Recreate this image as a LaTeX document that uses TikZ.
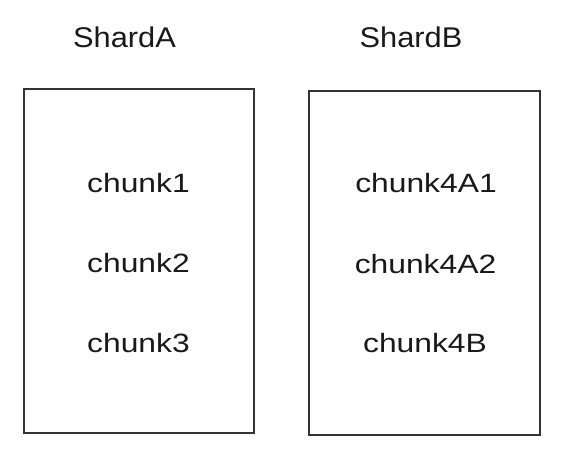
\documentclass[tikz,border=0pt]{standalone}
\usepackage{fontspec}
\setmainfont{Liberation Sans}
\newfontfamily\chunkfont[FakeStretch=1.2]{Liberation Sans}
\newfontfamily\shardfont[FakeStretch=1.08]{Liberation Sans}
\begin{document}
\begin{tikzpicture}[x=1pt,y=-1pt,
  shardbox/.style={draw=black!80,line width=2pt,fill=white,inner sep=0pt},
  chunklabel/.style={anchor=base,inner sep=0pt,font=\chunkfont\fontsize{26.5}{30}\selectfont,text=black!90},
  shardlabel/.style={anchor=base,inner sep=0pt,font=\shardfont\fontsize{28.5}{32}\selectfont,text=black!90}]
\useasboundingbox (0,0) rectangle (565,459);
\node[shardbox,minimum width=230pt,minimum height=344pt] (boxA) at (139,261) {};
\node[shardbox,minimum width=231pt,minimum height=344pt] (boxB) at (424.5,263) {};
\node[shardlabel] (shardA) at (124.5,47) {ShardA};
\node[shardlabel] (shardB) at (411,47) {ShardB};
\node[chunklabel] (c1) at (138.5,192) {chunk1};
\node[chunklabel] (c2) at (138.5,272) {chunk2};
\node[chunklabel] (c3) at (138.5,352) {chunk3};
\node[chunklabel] (c4a1) at (426,192) {chunk4A1};
\node[chunklabel] (c4a2) at (425.5,273) {chunk4A2};
\node[chunklabel] (c4b) at (425,352) {chunk4B};
\end{tikzpicture}
\end{document}
